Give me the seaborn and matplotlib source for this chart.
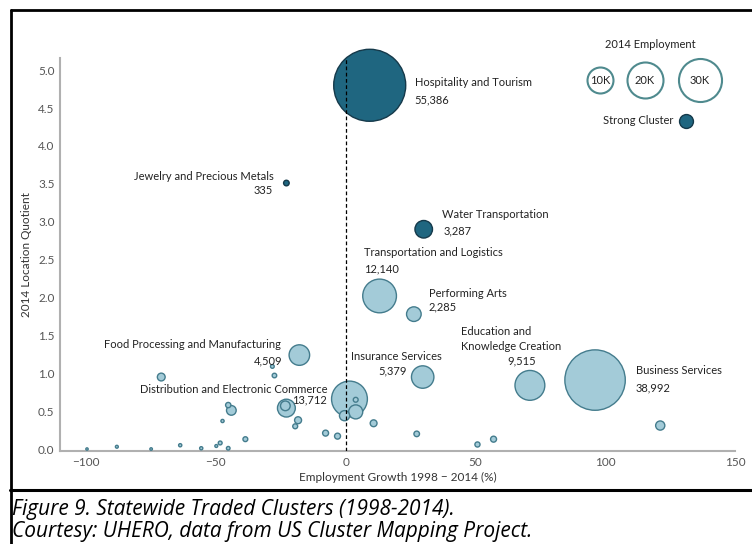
import pandas as pd
import numpy as np
import matplotlib.pyplot as plt
import seaborn as sns
from matplotlib.lines import Line2D

# labelled clusters
names = ['Hospitality and Tourism', 'Jewelry and Precious Metals', 'Water Transportation',
         'Transportation and Logistics', 'Performing Arts', 'Insurance Services',
         'Education and Knowledge Creation', 'Business Services',
         'Food Processing and Manufacturing', 'Distribution and Electronic Commerce']
growth = [9.3, -22.8, 30.1, 13.1, 26.3, 29.7, 71.0, 96.1, -17.8, 1.5]
lq = [4.80, 3.51, 2.90, 2.02, 1.78, 0.95, 0.84, 0.91, 1.24, 0.66]
emp = [55386, 335, 3287, 12140, 2285, 5379, 9515, 38992, 4509, 13712]
strong = [True, True, True, False, False, False, False, False, False, False]

# other (unlabelled) clusters
other_growth = [-71.0, -28.2, -27.4, -45.2, -44.0, -22.8, -23.2, -18.3, -19.4, -47.4,
                -38.6, -7.7, -3.1, -0.4, 3.9, 3.9, 10.8, 27.4, 50.8, 57.0, 121.2,
                -99.6, -88.1, -74.9, -63.7, -55.6, -49.8, -48.3, -45.2]
other_lq = [0.95, 1.09, 0.97, 0.58, 0.51, 0.54, 0.57, 0.38, 0.30, 0.37,
            0.13, 0.21, 0.17, 0.44, 0.49, 0.65, 0.34, 0.20, 0.06, 0.13, 0.31,
            0.00, 0.03, 0.00, 0.05, 0.01, 0.04, 0.08, 0.01]
other_emp = [650, 150, 220, 300, 1000, 3400, 1000, 520, 260, 110,
             250, 380, 380, 1100, 2100, 250, 500, 330, 280, 380, 900,
             60, 90, 70, 110, 110, 90, 160, 140]

df = pd.DataFrame({'name': names, 'growth': growth, 'lq': lq, 'emp': emp, 'strong': strong})
df_other = pd.DataFrame({'name': '', 'growth': other_growth, 'lq': other_lq,
                         'emp': other_emp, 'strong': False})
df = pd.concat([df, df_other], ignore_index=True)
df = df.sort_values('emp', ascending=False)

sns.set_style('white')
plt.rcParams['font.family'] = ['Lato', 'DejaVu Sans']
plt.rcParams['axes.unicode_minus'] = True

W, H = 752, 544
fig = plt.figure(figsize=(W / 100, H / 100), dpi=100)
ax = fig.add_axes([60 / W, 1 - 451 / H, 675 / W, 393 / H])

light, dark = '#a3cbd8', '#1f6680'
max_s = 2687
sns.scatterplot(data=df[~df.strong], x='growth', y='lq', size='emp', sizes=(0, max_s),
                size_norm=(0, 55386), color=light, edgecolor='#447c8d', linewidth=1.0,
                alpha=1, legend=False, ax=ax, clip_on=False, zorder=3)
sns.scatterplot(data=df[df.strong], x='growth', y='lq', size='emp', sizes=(0, max_s),
                size_norm=(0, 55386), color=dark, edgecolor='#15394a', linewidth=1.0,
                alpha=1, legend=False, ax=ax, clip_on=False, zorder=3)

ax.axvline(0, color='black', lw=0.9, ls=(0, (3, 2)), zorder=5)

ax.set_xlim(-110, 150)
ax.set_ylim(-0.026, 5.16)
ax.set_xticks([-100, -50, 0, 50, 100, 150])
ax.set_yticks(np.arange(0, 5.01, 0.5))
ax.set_yticklabels([f'{v:.1f}' for v in np.arange(0, 5.01, 0.5)])
ax.tick_params(length=0, labelsize=8.5, labelcolor='#555555', pad=4)
ax.set_xlabel('Employment Growth 1998 \u2212 2014 (%)', fontsize=8.5, color='#333333', labelpad=3)
ax.set_ylabel('2014 Location Quotient', fontsize=8.5, color='#333333', labelpad=4)
sns.despine(ax=ax)
for s in ['left', 'bottom']:
    ax.spines[s].set_color('#b0b0b0')
    ax.spines[s].set_linewidth(1.5)

# label text: (text, cluster, dx px, dy px, ha)
labels = [
    ('Hospitality and Tourism', 0, 45, 3, 'left'), ('55,386', 0, 45, -15, 'left'),
    ('Jewelry and Precious Metals', 1, -13, 7, 'right'), ('335', 1, -14, -7, 'right'),
    ('Water Transportation', 2, 18, 15, 'left'), ('3,287', 2, 20, -2, 'left'),
    ('Transportation and Logistics', 3, -16, 43, 'left'), ('12,140', 3, -16, 27, 'left'),
    ('Performing Arts', 4, 15, 21, 'left'), ('2,285', 4, 15, 7, 'left'),
    ('Insurance Services', 5, -72, 21, 'left'), ('5,379', 5, -16, 6, 'right'),
    ('Education and', 6, -69, 54, 'left'), ('Knowledge Creation', 6, -69, 39, 'left'),
    ('9,515', 6, 6, 24, 'right'),
    ('Business Services', 7, 41, 10, 'left'), ('38,992', 7, 41, -8, 'left'),
    ('Food Processing and Manufacturing', 8, -18, 11, 'right'), ('4,509', 8, -17, -6, 'right'),
    ('Distribution and Electronic Commerce', 9, -22, 10, 'right'), ('13,712', 9, -23, -1, 'right'),
]
for txt, i, dx, dy, ha in labels:
    ax.annotate(txt, xy=(growth[i], lq[i]), xytext=(dx * 0.72, dy * 0.72),
                textcoords='offset points', ha=ha, va='center', fontsize=8,
                color='#222222', zorder=6)

# size legend (figure pixel positions)
def fp(x, y):
    return (x / W, 1 - y / H)

fig.text(*fp(650, 44), '2014 Employment', ha='center', va='center', fontsize=8, color='#222222')
for lab, x, s in [('10K', 600, 350), ('20K', 645, 672), ('30K', 700, 960)]:
    ax.scatter(*fp(x, 80), s=s, facecolor='white', edgecolor='#4f8a8e', linewidth=1.5,
               transform=fig.transFigure, clip_on=False, zorder=6)
    fig.text(*fp(x, 80), lab, ha='center', va='center', fontsize=8, color='#222222', zorder=7)
fig.text(*fp(673, 121), 'Strong Cluster', ha='right', va='center', fontsize=8, color='#222222')
ax.scatter(*fp(686, 121), s=100, facecolor=dark, edgecolor='#15394a', linewidth=1.0,
           transform=fig.transFigure, clip_on=False, zorder=6)

# frame and caption
for xs, ys, lw in [([11, 752], [10, 10], 2), ([11, 11], [10, 544], 2), ([10, 752], [490, 490], 2.2)]:
    fig.add_artist(Line2D([x / W for x in xs], [1 - y / H for y in ys], color='black',
                          lw=lw, transform=fig.transFigure))
cap_font = ['Open Sans', 'DejaVu Sans']
fig.text(*fp(12, 510), 'Figure 9. Statewide Traded Clusters (1998-2014).', ha='left',
         va='center', fontsize=15, style='italic', color='black', family=cap_font)
fig.text(*fp(12, 531), 'Courtesy: UHERO, data from US Cluster Mapping Project.', ha='left',
         va='center', fontsize=15, style='italic', color='black', family=cap_font)

fig.savefig('out.png', dpi=100)
